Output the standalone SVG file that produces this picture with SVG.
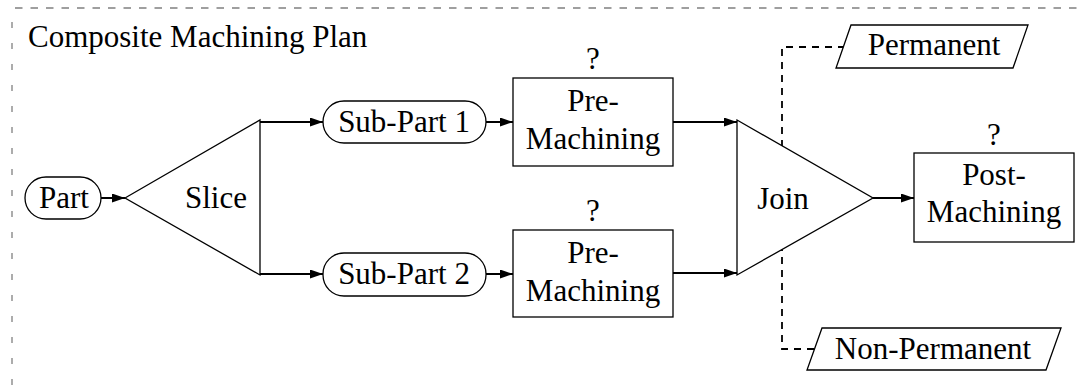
<svg xmlns="http://www.w3.org/2000/svg" width="1081" height="386" viewBox="0 0 1081 386">
<defs>
<marker id="ah" markerWidth="13" markerHeight="9" refX="13" refY="4.5" orient="auto" markerUnits="userSpaceOnUse">
<path d="M0,0 L13,4.5 L0,9 Z" fill="#000"/>
</marker>
</defs>
<style>
text{font-family:"Liberation Serif","Times New Roman",serif;font-size:31px;fill:#000;text-anchor:middle}
.shape{fill:#fff;stroke:#000;stroke-width:1.3}
.conn{fill:none;stroke:#000;stroke-width:2;marker-end:url(#ah)}
.dash{fill:none;stroke:#000;stroke-width:1.8;stroke-dasharray:7,6}
.frame{fill:none;stroke:#808080;stroke-width:1.3}
</style>
<rect width="1081" height="386" fill="#fff"/>
<g id="frame">
<line class="frame" x1="15" y1="8" x2="1081" y2="8" stroke-dasharray="7.5,8"/>
<line class="frame" x1="12" y1="22" x2="12" y2="386" stroke-dasharray="6,15"/>
<text x="28" y="47" style="text-anchor:start">Composite Machining Plan</text>
</g>
<g id="dashed-connectors">
<path class="dash" d="M845,47 H782 V349 H814"/>
</g>
<g id="connectors">
<line class="conn" x1="101" y1="198" x2="125" y2="198"/>
<line class="conn" x1="260" y1="122" x2="323" y2="122"/>
<line class="conn" x1="260" y1="274" x2="323" y2="274"/>
<line class="conn" x1="486" y1="122" x2="513" y2="122"/>
<line class="conn" x1="486" y1="274" x2="513" y2="274"/>
<line class="conn" x1="673" y1="122" x2="737" y2="122"/>
<line class="conn" x1="673" y1="273" x2="737" y2="273"/>
<line class="conn" x1="873" y1="198" x2="914" y2="198"/>
</g>
<g id="part">
<rect class="shape" x="25" y="177" width="76" height="42" rx="21"/>
<text x="64" y="208">Part</text>
</g>
<g id="slice">
<polygon class="shape" points="125,198 260,120 260,275"/>
<text x="216" y="208">Slice</text>
</g>
<g id="subpart1">
<rect class="shape" x="323" y="101" width="163" height="42" rx="21"/>
<text x="404" y="132">Sub-Part 1</text>
</g>
<g id="subpart2">
<rect class="shape" x="323" y="253" width="163" height="43" rx="21"/>
<text x="404" y="284">Sub-Part 2</text>
</g>
<g id="premachining1">
<text x="593" y="69">?</text>
<rect class="shape" x="513" y="78" width="160" height="88"/>
<text x="593" y="111">Pre-</text>
<text x="593" y="149">Machining</text>
</g>
<g id="premachining2">
<text x="593" y="221">?</text>
<rect class="shape" x="513" y="230" width="160" height="87"/>
<text x="593" y="263">Pre-</text>
<text x="593" y="301">Machining</text>
</g>
<g id="join">
<polygon class="shape" points="737,120 873,198 737,275"/>
<text x="783" y="209">Join</text>
</g>
<g id="postmachining">
<text x="994" y="145">?</text>
<rect class="shape" x="914" y="153" width="160" height="89"/>
<text x="994" y="185">Post-</text>
<text x="994" y="222">Machining</text>
</g>
<g id="permanent">
<polygon class="shape" points="851,25 1028,25 1013,68 836,68"/>
<text x="934" y="55">Permanent</text>
</g>
<g id="nonpermanent">
<polygon class="shape" points="822,328 1061,328 1046,370 807,370"/>
<text x="933" y="359">Non-Permanent</text>
</g>
</svg>
